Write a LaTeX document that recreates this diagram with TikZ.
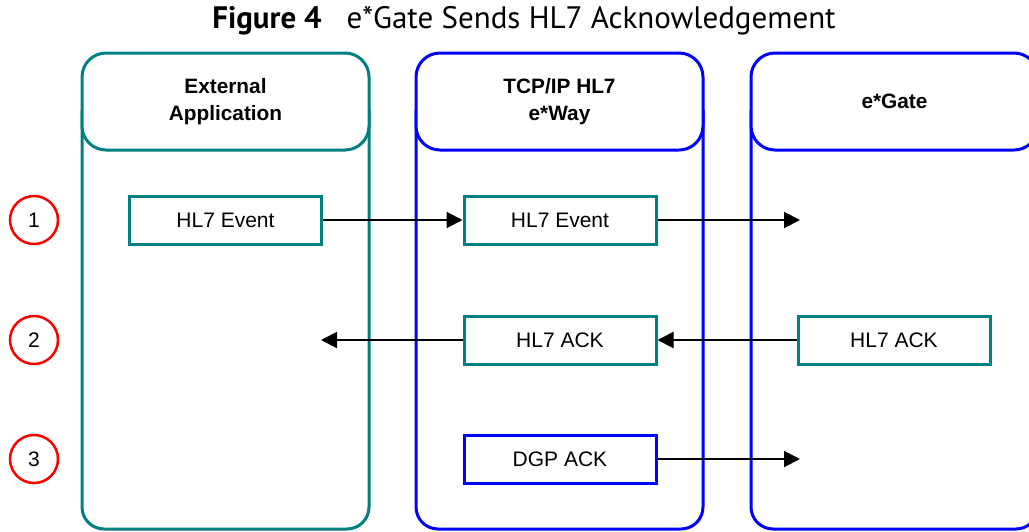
\documentclass[tikz,border=0pt]{standalone}
\usepackage{fontspec}
\setmainfont{Liberation Sans}
\newfontfamily\titlefont{PT Sans}
\usetikzlibrary{arrows.meta}
\definecolor{tealc}{RGB}{0,128,128}
\definecolor{bluec}{RGB}{0,0,255}
\definecolor{redc}{RGB}{255,0,0}
\begin{document}
\begin{tikzpicture}[x=1pt,y=-1pt,
 colhead/.style={draw=#1, line width=3pt, rounded corners=24pt, fill=white, minimum width=287pt, minimum height=97pt, inner sep=0pt, align=center, font=\fontsize{20.8}{26.5}\selectfont\bfseries},
 colbody/.style={draw=#1, line width=3pt, rounded corners=22pt},
 msgbox/.style={draw=#1, line width=3pt, fill=white, minimum width=192pt, minimum height=48pt, inner sep=0pt, font=\fontsize{21}{24}\selectfont},
 stepnum/.style={draw=redc, line width=2.5pt, circle, minimum size=48pt, inner sep=0pt, font=\fontsize{21}{24}\selectfont},
 flow/.style={line width=2pt, -{Triangle[length=16pt,width=16pt]}},
]
\useasboundingbox (0,0) rectangle (1029,531);
\clip (0,0) rectangle (1029,531);

% title
\node (title) at (524,21) {\titlefont\fontsize{31}{34}\selectfont\textbf{Figure 4}\hspace{0.8em}e*Gate Sends HL7 Acknowledgement};

% column bodies
\draw[colbody=tealc] (82,110) -- (82,529) -- (369,529) -- (369,110);
\draw[colbody=bluec] (416,110) -- (416,529) -- (703,529) -- (703,110);
\draw[colbody=bluec] (751,110) -- (751,529) -- (1038,529) -- (1038,110);

% column headers
\node[colhead=tealc] (hext) at (225.5,101.5) {External\\Application};
\node[colhead=bluec] (hway) at (559.5,101.5) {TCP/IP HL7\\e*Way};
\node[colhead=bluec] (hgate) at (894.5,101.5) {e*Gate};

% step numbers
\node[stepnum] (s1) at (34,220) {1};
\node[stepnum] (s2) at (34,340) {2};
\node[stepnum] (s3) at (34,459) {3};

% message boxes
\node[msgbox=tealc] (ev1) at (225.5,220) {HL7 Event};
\node[msgbox=tealc] (ev2) at (560,220) {HL7 Event};
\node[msgbox=tealc] (ack2) at (560,340) {HL7 ACK};
\node[msgbox=tealc] (ack3) at (894,340) {HL7 ACK};
\node[msgbox=bluec] (dgp) at (560,459) {DGP ACK};

% free ends
\coordinate (e1) at (800,220);
\coordinate (e2) at (321,340);
\coordinate (e3) at (800,459);

% connectors
\draw[flow] (ev1.east) -- (ev2.west);
\draw[flow] (ev2.east) -- (e1);
\draw[flow] (ack3.west) -- (ack2.east);
\draw[flow] (ack2.west) -- (e2);
\draw[flow] (dgp.east) -- (e3);
\end{tikzpicture}
\end{document}
